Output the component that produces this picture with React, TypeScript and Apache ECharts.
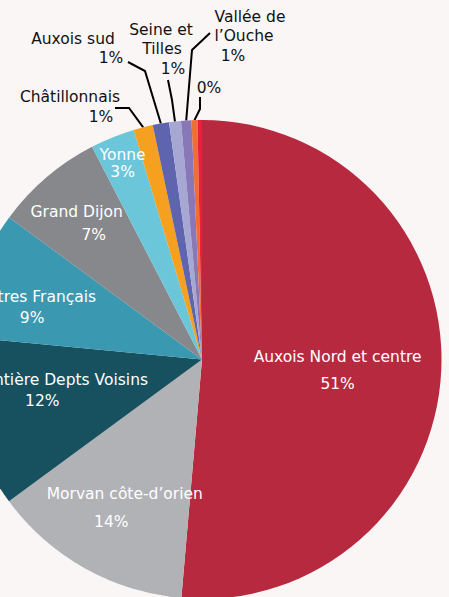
import React, { useEffect, useRef } from 'react';
import * as echarts from 'echarts';

const categories = [
  'Auxois Nord et centre',
  'Morvan côte-d\u2019orien',
  'Frontière Depts Voisins',
  'Autres Français',
  'Grand Dijon',
  'Yonne',
  'Châtillonnais',
  'Auxois sud',
  'Seine et\nTilles',
  'Vallée de\nl\u2019Ouche',
  '',
  '',
];
const values = [51.4, 13.55, 11.6, 8.6, 7.3, 3.0, 1.3, 1.1, 0.8, 0.7, 0.4, 0.3];
const colors = [
  '#b7293f', '#b1b2b6', '#17505e', '#3a98b1', '#87888b', '#6cc6da',
  '#f6a01f', '#5f64ae', '#a6a8d3', '#8878b7', '#f26c35', '#e7213a',
];

// label placement (layout only)
const insideFactor: Record<number, number> = { 0: 0.568, 1: 0.70, 2: 0.61, 3: 0.724, 4: 0.773, 5: 0.883 };
const insideAngleOffset: Record<number, number> = { 0: 2.1, 1: -1.9, 2: 3.0, 3: -3.4, 4: -2.1, 5: -0.1 };
const lineHeights: Record<number, number> = { 0: 27, 1: 28, 2: 21, 3: 21, 4: 23, 5: 17 };
// horizontal shift of each text line (name lines..., percent line)
const lineShift: Record<number, number[]> = {
  0: [0, 0],
  1: [0, -13.5],
  2: [0, -17],
  3: [0, -4.5],
  4: [0, 17],
  5: [0, 0],
  6: [0, 31],
  7: [0, 38],
  8: [0, 1, 12],
  9: [0, -6, -17],
  10: [0],
};
const outsidePos: Record<number, { x: number; y: number; elbow: number[]; end: number[] }> = {
  6: { x: 70, y: 107, elbow: [129, 108], end: [115, 108] },
  7: { x: 73, y: 48.5, elbow: [145, 71], end: [128, 62] },
  8: { x: 161, y: 49, elbow: [172, 100], end: [168, 80] },
  9: { x: 250, y: 36, elbow: [192, 50], end: [210, 33] },
  10: { x: 209, y: 88, elbow: [200, 109], end: [200, 97] },
};

const CX = 202;
const CY = 359.5;
const R = 239.5;
const FONT = 'DejaVu Sans';
const FS = 15.5;

export default function App() {
  const ref = useRef<HTMLDivElement>(null);
  useEffect(() => {
    if (!ref.current) return;
    const chart = echarts.init(ref.current, null, { renderer: 'svg' });
    const total = values.reduce((a, b) => a + b, 0);
    const mids: number[] = [];
    let acc = 0;
    values.forEach((v) => {
      const a0 = (acc / total) * 360;
      acc += v;
      const a1 = (acc / total) * 360;
      mids.push((a0 + a1) / 2);
    });
    const data = values.map((v, i) => {
      const inside = i <= 5;
      const color = inside ? '#ffffff' : '#111111';
      const lh = inside ? lineHeights[i] : 19.5;
      const rich: Record<string, any> = {};
      (lineShift[i] || [0, 0, 0]).forEach((s, k) => {
        rich['s' + k] = {
          fontFamily: FONT,
          fontSize: FS,
          color,
          lineHeight: lh,
          padding: s >= 0 ? [0, 0, 0, 2 * s] : [0, -2 * s, 0, 0],
        };
      });
      return {
        name: categories[i],
        value: v,
        itemStyle: { color: colors[i] },
        label: {
          show: i !== 11,
          position: inside ? 'inside' : 'outside',
          color,
          lineHeight: lh,
          rich,
        },
        labelLine: { show: !inside && i !== 11 },
      };
    });
    chart.setOption({
      animation: false,
      backgroundColor: '#faf6f5',
      series: [
        {
          type: 'pie',
          center: [CX, CY],
          radius: [0, R],
          startAngle: 90,
          clockwise: true,
          avoidLabelOverlap: false,
          data,
          label: {
            fontFamily: FONT,
            fontSize: FS,
            formatter: (p: any) => {
              const lines: string[] = p.name ? String(p.name).split('\n') : [];
              lines.push(Math.round(p.percent) + '%');
              return lines.map((t, k) => '{s' + k + '|' + t + '}').join('\n');
            },
          },
          labelLine: {
            lineStyle: { color: '#000000', width: 2 },
          },
          labelLayout: (p: any) => {
            const i = p.dataIndex;
            if (i <= 5) {
              const m = (mids[i] + insideAngleOffset[i]) * Math.PI / 180;
              const f = insideFactor[i];
              return {
                x: CX + f * R * Math.sin(m),
                y: CY - f * R * Math.cos(m),
                align: 'center',
                verticalAlign: 'middle',
              };
            }
            const o = outsidePos[i];
            if (!o) return {};
            const m = mids[i] * Math.PI / 180;
            const anchor = [CX + R * Math.sin(m), CY - R * Math.cos(m)];
            return {
              x: o.x,
              y: o.y,
              align: 'center',
              verticalAlign: 'middle',
              labelLinePoints: [anchor, o.elbow, o.end],
            };
          },
        },
      ],
    });
    return () => chart.dispose();
  }, []);
  return (
    <div
      ref={ref}
      style={{ position: 'fixed', left: 0, top: 0, width: 449, height: 597 }}
    />
  );
}
